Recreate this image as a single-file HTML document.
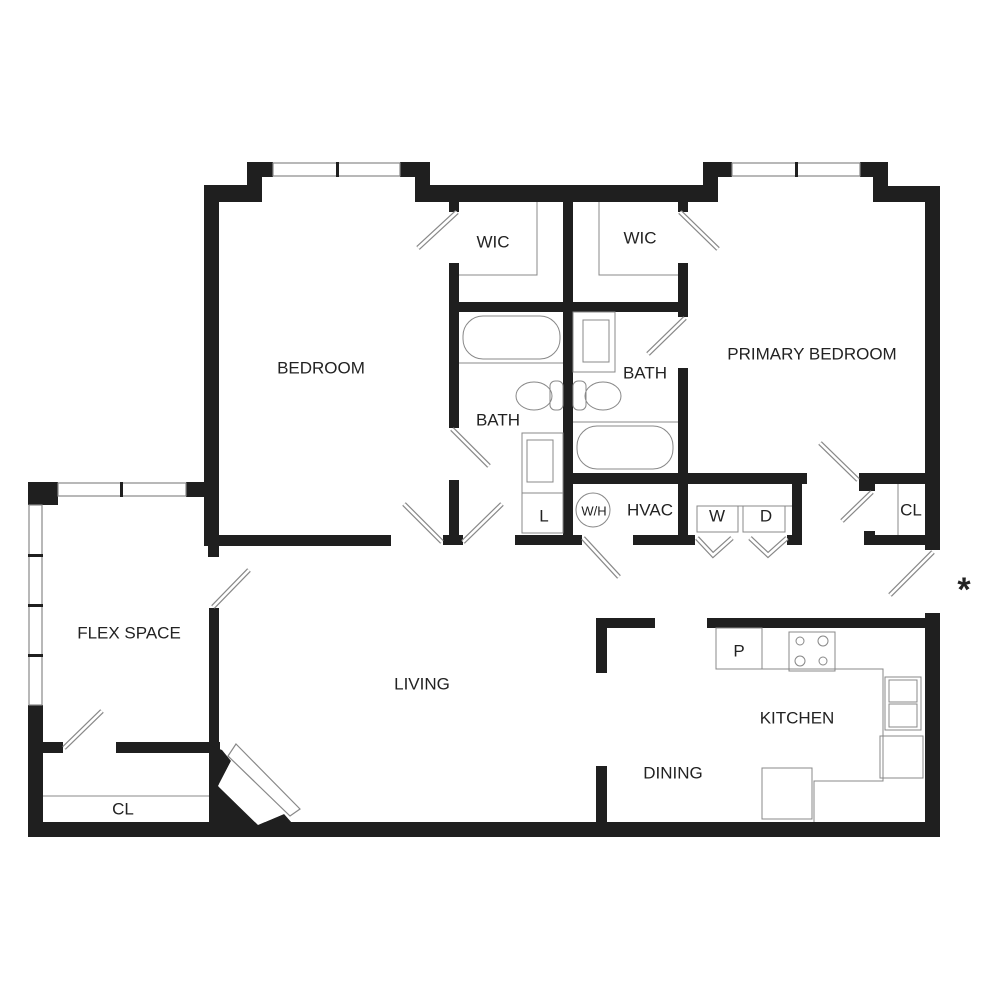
<!DOCTYPE html>
<html><head><meta charset="utf-8"><style>
html,body{margin:0;padding:0;background:#fff}
svg{display:block}
text{font-family:"Liberation Sans",sans-serif;fill:#222;text-anchor:middle;dominant-baseline:central;font-size:17px}
</style></head><body>
<svg width="1000" height="1000" viewBox="0 0 1000 1000" xmlns="http://www.w3.org/2000/svg">
<g fill="#1f1f1f">
<!-- bedroom top-left -->
<rect x="204" y="185" width="58" height="17"/>
<rect x="247" y="162" width="15" height="40"/>
<rect x="247" y="162" width="26" height="15"/>
<rect x="204" y="185" width="15" height="360"/>
<rect x="208" y="540" width="11" height="17"/>
<rect x="187" y="482" width="32" height="15"/>
<rect x="400" y="162" width="30" height="15"/>
<rect x="415" y="162" width="15" height="40"/>
<rect x="415" y="185" width="303" height="17"/>
<rect x="204" y="535" width="187" height="11"/>
<!-- right top -->
<rect x="703" y="162" width="29" height="15"/>
<rect x="703" y="162" width="15" height="40"/>
<rect x="860" y="162" width="28" height="15"/>
<rect x="873" y="162" width="15" height="40"/>
<rect x="873" y="186" width="67" height="16"/>
<rect x="925" y="186" width="15" height="364"/>
<!-- core walls -->
<rect x="449" y="202" width="10" height="10"/>
<rect x="449" y="263" width="10" height="165"/>
<rect x="449" y="480" width="10" height="65"/>
<rect x="443" y="535" width="20" height="10"/>
<rect x="449" y="302" width="239" height="10"/>
<rect x="563" y="202" width="10" height="343"/>
<rect x="678" y="202" width="10" height="10"/>
<rect x="678" y="263" width="10" height="54"/>
<rect x="678" y="368" width="10" height="177"/>
<rect x="573" y="473" width="234" height="11"/>
<rect x="515" y="535" width="67" height="10"/>
<rect x="633" y="535" width="62" height="10"/>
<rect x="792" y="484" width="10" height="61"/>
<rect x="787" y="535" width="15" height="10"/>
<rect x="859" y="473" width="66" height="11"/>
<rect x="859" y="484" width="16" height="7"/>
<rect x="864" y="535" width="61" height="10"/>
<rect x="864" y="531" width="11" height="14"/>
<!-- kitchen / dining -->
<rect x="925" y="613" width="15" height="224"/>
<rect x="707" y="618" width="233" height="10"/>
<rect x="596" y="618" width="59" height="10"/>
<rect x="596" y="618" width="11" height="55"/>
<rect x="596" y="766" width="11" height="60"/>
<rect x="28" y="822" width="912" height="15"/>
<!-- flex -->
<rect x="28" y="482" width="30" height="23"/>
<rect x="186" y="482" width="33" height="15"/>
<rect x="28" y="705" width="15" height="132"/>
<rect x="43" y="742" width="20" height="11"/>
<rect x="116" y="742" width="104" height="11"/>
<rect x="209" y="470" width="10" height="86"/>
<rect x="209" y="608" width="10" height="215"/>
<polygon points="209,745 222,750 231,761 218,786 258,825 284,814 292,823 209,823"/>
</g>
<!-- windows -->
<g fill="#fff" stroke="#888" stroke-width="1.2">
<rect x="273" y="163" width="127" height="13"/>
<rect x="732" y="163" width="128" height="13"/>
<rect x="58" y="483" width="128" height="13"/>
<rect x="29" y="505" width="13" height="200"/>
</g>
<g fill="#1f1f1f">
<rect x="336" y="162" width="3" height="15"/>
<rect x="795" y="162" width="3" height="15"/>
<rect x="120" y="482" width="3" height="15"/>
<rect x="28" y="554" width="15" height="3"/>
<rect x="28" y="604" width="15" height="3"/>
<rect x="28" y="654" width="15" height="3"/>
</g>
<!-- angled door box -->
<polygon points="236,744 300,809 290,816 228,756" fill="#fff" stroke="#888" stroke-width="1.2"/>
<polygon points="231,761 218,786 258,825 284,814" fill="#fff"/>
<!-- doors -->
<g stroke-linecap="butt">
<g stroke="#888" stroke-width="5">
<line x1="418" y1="248" x2="457" y2="212"/>
<line x1="452" y1="429" x2="489" y2="466"/>
<line x1="404" y1="504" x2="442" y2="542"/>
<line x1="463" y1="542" x2="502" y2="504"/>
<line x1="680" y1="212" x2="718" y2="249"/>
<line x1="685" y1="318" x2="648" y2="354"/>
<line x1="583" y1="538" x2="619" y2="577"/>
<polyline points="697,538 713,555 732,538" fill="none"/>
<polyline points="750,538 768,555 787,538" fill="none"/>
<line x1="820" y1="443" x2="858" y2="480"/>
<line x1="872" y1="492" x2="842" y2="521"/>
<line x1="933" y1="552" x2="890" y2="595"/>
<line x1="249" y1="570" x2="213" y2="607"/>
<line x1="102" y1="711" x2="64" y2="748"/>
</g>
<g stroke="#fff" stroke-width="2.6">
<line x1="418" y1="248" x2="457" y2="212"/>
<line x1="452" y1="429" x2="489" y2="466"/>
<line x1="404" y1="504" x2="442" y2="542"/>
<line x1="463" y1="542" x2="502" y2="504"/>
<line x1="680" y1="212" x2="718" y2="249"/>
<line x1="685" y1="318" x2="648" y2="354"/>
<line x1="583" y1="538" x2="619" y2="577"/>
<polyline points="697,538 713,555 732,538" fill="none"/>
<polyline points="750,538 768,555 787,538" fill="none"/>
<line x1="820" y1="443" x2="858" y2="480"/>
<line x1="872" y1="492" x2="842" y2="521"/>
<line x1="933" y1="552" x2="890" y2="595"/>
<line x1="249" y1="570" x2="213" y2="607"/>
<line x1="102" y1="711" x2="64" y2="748"/>
</g>
</g>
<!-- fixtures -->
<g fill="none" stroke="#888" stroke-width="1">
<polyline points="537,202 537,275 459,275"/>
<polyline points="599,202 599,275 678,275"/>
<rect x="463" y="316" width="97" height="43" rx="20"/>
<line x1="459" y1="363" x2="563" y2="363"/>
<rect x="573" y="312" width="42" height="60"/>
<rect x="583" y="320" width="26" height="42"/>
<ellipse cx="534" cy="396" rx="18" ry="14"/>
<rect x="550" y="381" width="13" height="29" rx="5"/>
<ellipse cx="603" cy="396" rx="18" ry="14"/>
<rect x="573" y="381" width="13" height="29" rx="5"/>
<line x1="573" y1="422" x2="678" y2="422"/>
<rect x="577" y="426" width="96" height="43" rx="20"/>
<rect x="522" y="433" width="41" height="100"/>
<rect x="527" y="440" width="26" height="42"/>
<line x1="522" y1="493" x2="563" y2="493"/>
<circle cx="593" cy="510" r="17"/>
<line x1="697" y1="506" x2="792" y2="506"/>
<rect x="697" y="506" width="41" height="26"/>
<rect x="743" y="506" width="42" height="26"/>
<line x1="898" y1="484" x2="898" y2="535"/>
<rect x="716" y="628" width="46" height="41"/>
<polyline points="762,669 883,669 883,781 814,781 814,822"/>
<rect x="789" y="632" width="46" height="39"/>
<circle cx="800" cy="641" r="4"/><circle cx="823" cy="641" r="5"/>
<circle cx="800" cy="661" r="5"/><circle cx="823" cy="661" r="4"/>
<rect x="885" y="677" width="36" height="53"/>
<rect x="889" y="680" width="28" height="22"/>
<rect x="889" y="704" width="28" height="23"/>
<rect x="880" y="736" width="43" height="42"/>
<rect x="762" y="768" width="50" height="51"/>
<line x1="43" y1="796" x2="209" y2="796"/>
</g>
<!-- labels -->
<text x="321" y="368">BEDROOM</text>
<text x="493" y="242">WIC</text>
<text x="640" y="238">WIC</text>
<text x="498" y="420">BATH</text>
<text x="645" y="373">BATH</text>
<text x="812" y="354">PRIMARY BEDROOM</text>
<text x="544" y="516">L</text>
<text x="594" y="511" style="font-size:13px">W/H</text>
<text x="650" y="510">HVAC</text>
<text x="717" y="516">W</text>
<text x="766" y="516">D</text>
<text x="911" y="510">CL</text>
<text x="129" y="633">FLEX SPACE</text>
<text x="422" y="684">LIVING</text>
<text x="797" y="718">KITCHEN</text>
<text x="673" y="773">DINING</text>
<text x="739" y="651">P</text>
<text x="123" y="809">CL</text>
<text x="964" y="590" style="font-size:34px;font-weight:bold">*</text>
</svg>
</body></html>
